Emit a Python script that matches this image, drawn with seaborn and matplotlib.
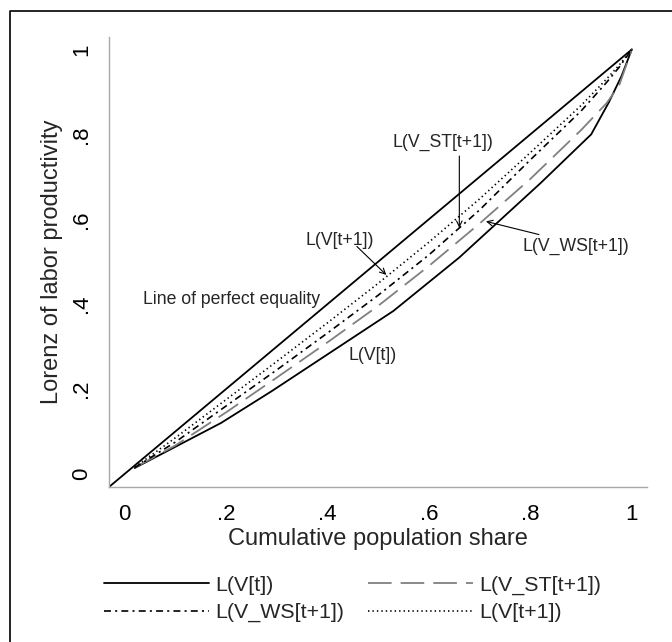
import numpy as np
import pandas as pd
import matplotlib
matplotlib.use("Agg")
import matplotlib.pyplot as plt
from matplotlib.lines import Line2D
import seaborn as sns

# Lorenz curves
x_vt = [0.02, 0.19, 0.29, 0.53, 0.66, 0.82, 0.92, 0.955, 0.98, 1.0]
y_vt = [0.014, 0.12, 0.195, 0.384, 0.51, 0.685, 0.80, 0.876, 0.938, 1.0]

x_grid = [0.02, 0.1, 0.2, 0.3, 0.4, 0.5, 0.6, 0.7, 0.8, 0.9, 0.95, 0.975, 1.0]
y_vt1 = [0.016, 0.085, 0.175, 0.265, 0.356, 0.449, 0.546, 0.648, 0.757, 0.868, 0.93, 0.963, 1.0]
y_vws = [0.015, 0.075, 0.16, 0.245, 0.332, 0.421, 0.516, 0.622, 0.74, 0.855, 0.922, 0.958, 1.0]
y_vst = [0.015, 0.067, 0.145, 0.227, 0.31, 0.396, 0.49, 0.59, 0.695, 0.81, 0.873, 0.915, 1.0]

eq_x = [-0.03, 1.0]

xticks = [0, 0.2, 0.4, 0.6, 0.8, 1]
tick_labels = ["0", ".2", ".4", ".6", ".8", "1"]

sns.set_style("white")
plt.rcParams['font.family'] = ['Liberation Sans', 'DejaVu Sans']
plt.rcParams['lines.scale_dashes'] = False

fig = plt.figure(figsize=(6.72, 6.42), dpi=100)
ax = fig.add_axes([0.1627, 0.2419, 0.8001, 0.7009])

df_t = pd.DataFrame({"x": x_vt, "y": y_vt})
df_g = pd.DataFrame({"x": x_grid, "vt1": y_vt1, "vws": y_vws, "vst": y_vst})

sns.lineplot(x=eq_x, y=eq_x, ax=ax, color="black", lw=1.3, estimator=None, sort=False)
l_t = sns.lineplot(data=df_t, x="x", y="y", ax=ax, color="black", lw=1.3,
                   estimator=None, sort=False).lines[-1]
l_st = sns.lineplot(data=df_g, x="x", y="vst", ax=ax, color="#808080", lw=1.3,
                    linestyle=(0, (17, 6.5)), estimator=None, sort=False).lines[-1]
l_ws = sns.lineplot(data=df_g, x="x", y="vws", ax=ax, color="black", lw=1.2,
                    linestyle=(0, (5, 3, 1.5, 3)), estimator=None, sort=False).lines[-1]
l_t1 = sns.lineplot(data=df_g, x="x", y="vt1", ax=ax, color="black", lw=1.2,
                    linestyle=(0, (1, 2.2)), estimator=None, sort=False).lines[-1]

ax.set_xlim(-0.03, 1.03)
ax.set_ylim(-0.03, 1.03)
ax.set_xticks(xticks)
ax.set_xticklabels(tick_labels, fontsize=16)
ax.set_yticks(xticks)
ax.set_yticklabels(tick_labels, fontsize=16, rotation=90, va="center")
ax.tick_params(axis="both", direction="out", length=6.5, width=1, color="#a8a8a8",
               pad=6, labelcolor="black")
for side in ["top", "right"]:
    ax.spines[side].set_visible(False)
for side in ["left", "bottom"]:
    ax.spines[side].set_color("#a8a8a8")
    ax.spines[side].set_linewidth(1)

ax.set_xlabel("Cumulative population share", fontsize=17, labelpad=2)
ax.set_ylabel("Lorenz of labor productivity", fontsize=17, labelpad=6)

# labels on the curves
ax.text(0.036, 0.412, "Line of perfect equality", fontsize=12.7, va="center", ha="left")
ax.text(0.441, 0.279, "L(V[t])", fontsize=12.7, va="center", ha="left")
arrow = dict(arrowstyle="->", color="black", lw=0.8, shrinkA=0, shrinkB=0)
ax.text(0.356, 0.549, "L(V[t+1])", fontsize=12.7, va="center", ha="left")
ax.annotate("", xy=(0.516, 0.469), xytext=(0.458, 0.536), arrowprops=arrow)
ax.text(0.628, 0.781, "L(V_ST[t+1])", fontsize=12.7, va="center", ha="center")
ax.annotate("", xy=(0.660, 0.580), xytext=(0.660, 0.749), arrowprops=arrow)
ax.text(0.784, 0.536, "L(V_WS[t+1])", fontsize=12.7, va="center", ha="left")
ax.annotate("", xy=(0.7125, 0.595), xytext=(0.817, 0.564), arrowprops=arrow)

handles = [l_t, l_ws, l_st, l_t1]
labels = ["L(V[t])", "L(V_WS[t+1])", "L(V_ST[t+1])", "L(V[t+1])"]
fig.legend(handles, labels, loc="center", bbox_to_anchor=(0.525, 0.067), ncol=2,
           frameon=False, fontsize=15.4, handlelength=4.9, handletextpad=0.3,
           columnspacing=1.1, labelspacing=0.4)

# outer frame (top and left edges visible in the picture)
fig.add_artist(Line2D([9.5 / 672, 9.5 / 672, 1.0], [0.0, 1 - 11 / 642, 1 - 11 / 642],
                      transform=fig.transFigure, color="black", lw=1.2))

fig.savefig("out.png", dpi=100, facecolor="white")
